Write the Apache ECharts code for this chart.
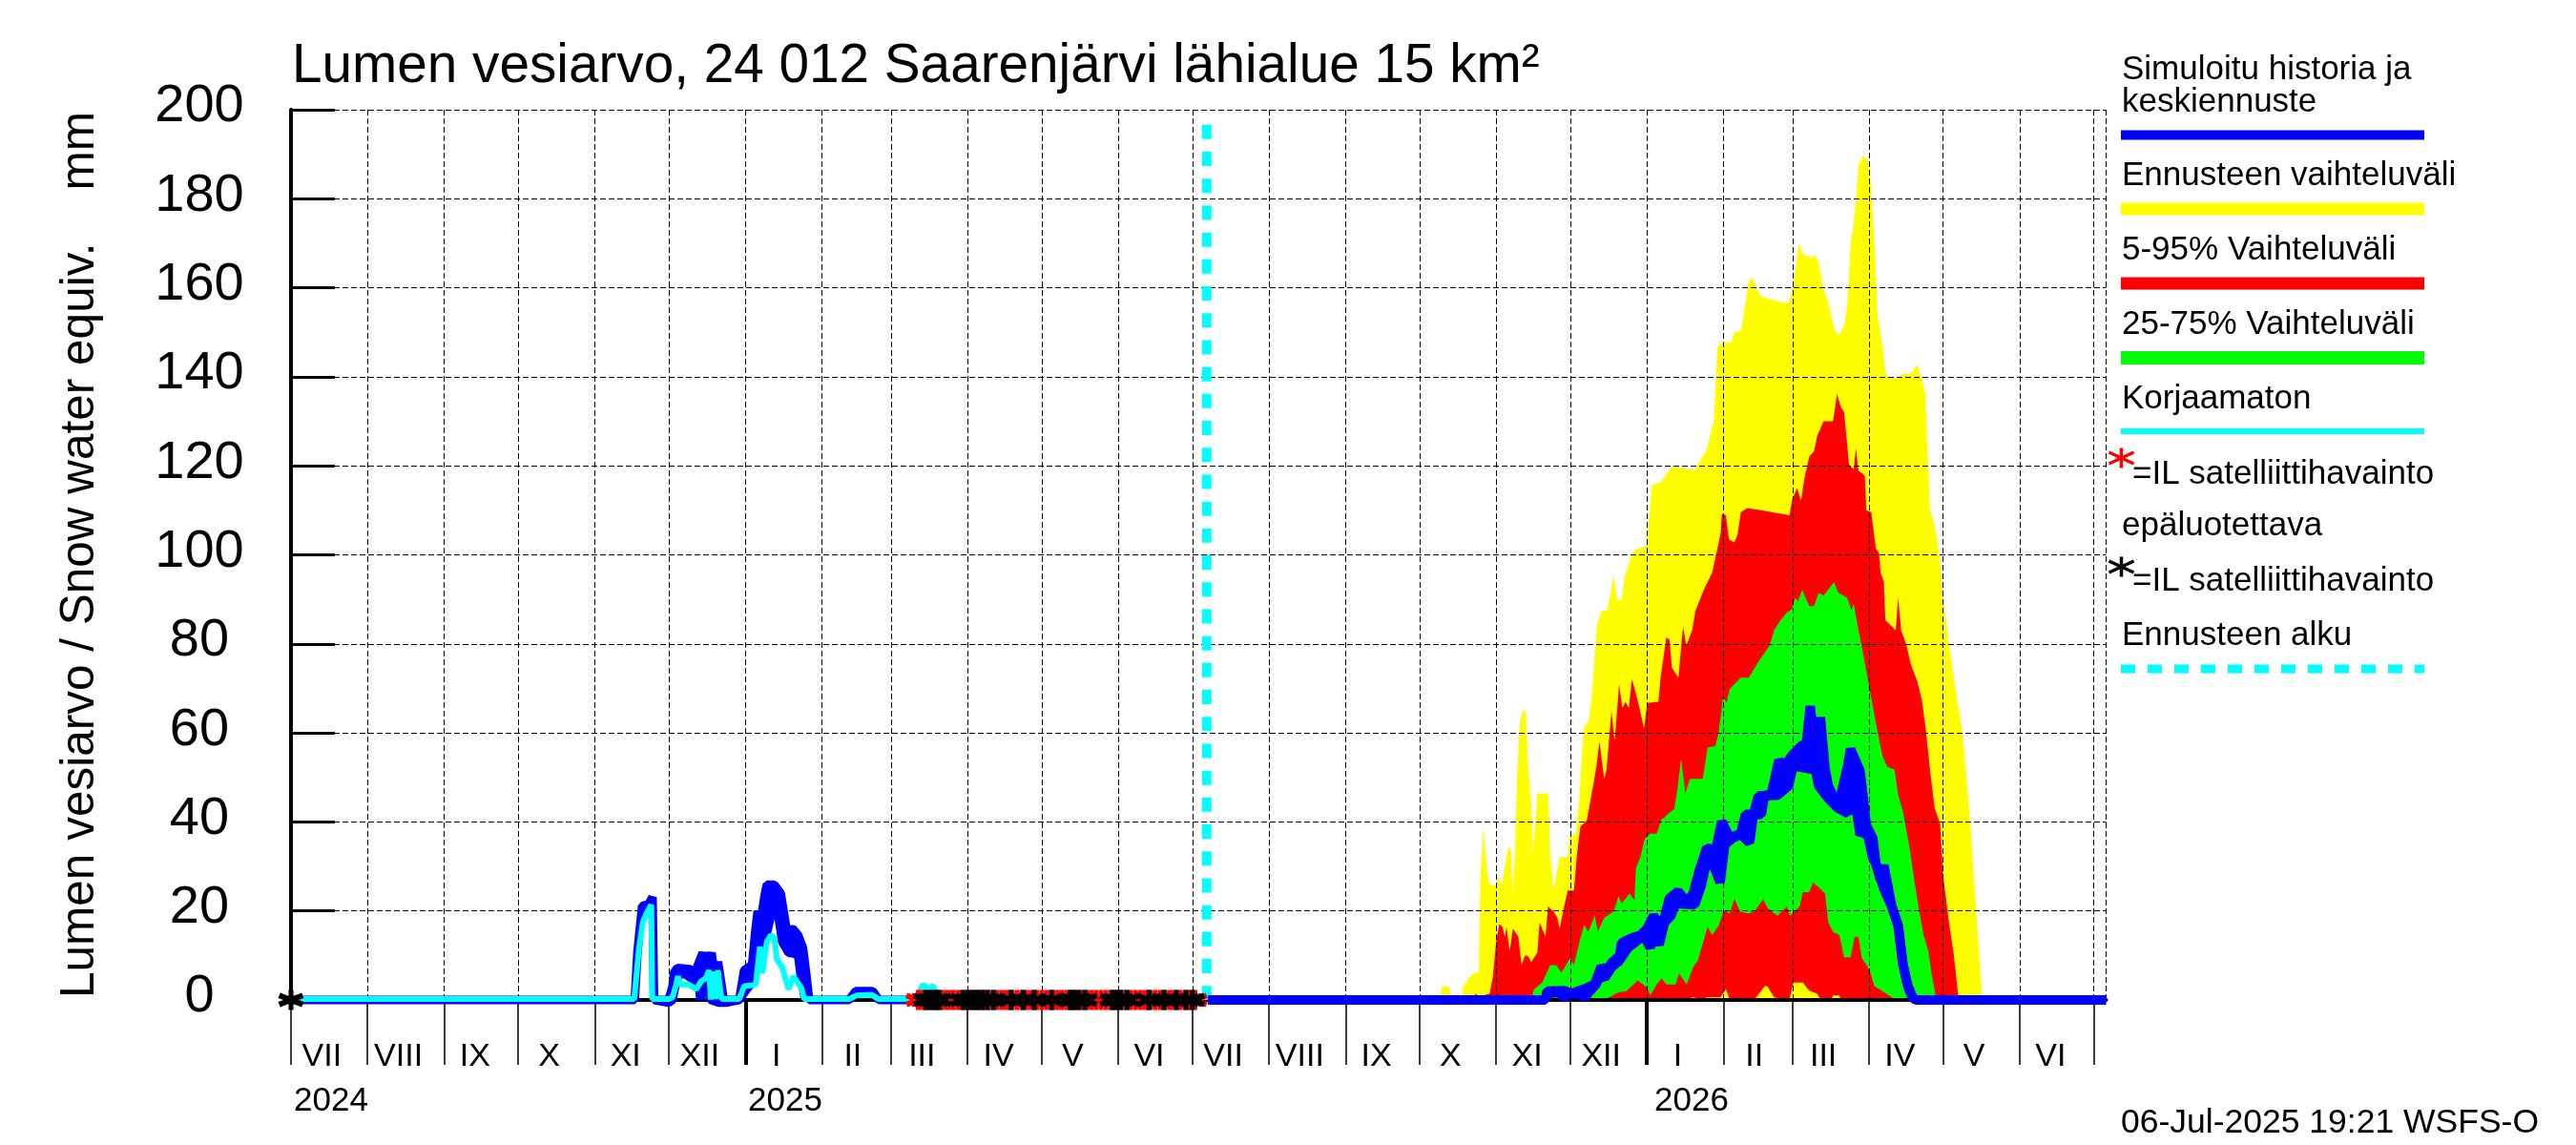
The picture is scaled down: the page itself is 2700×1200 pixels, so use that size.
<!DOCTYPE html>
<html>
<head>
<meta charset="utf-8">
<style>html,body{margin:0;background:#fff}#container{width:2700px;height:1200px}</style>
<script src="https://cdn.jsdelivr.net/npm/echarts@6/dist/echarts.min.js"></script>
</head>
<body>
<div id="container"></div>
<script>
const chartIns = echarts.init(document.getElementById('container'));

// x is days since 1 Jul 2024, y is mm
const monthStarts = [0,31,62,92,123,153,184,215,243,274,304,335,365,396,427,457,488,518,549,580,608,639,669,700,730];
const monthNames = ['VII','VIII','IX','X','XI','XII','I','II','III','IV','V','VI','VII','VIII','IX','X','XI','XII','I','II','III','IV','V','VI'];
const yearStarts = [184,549];
const yTicks = [0,20,40,60,80,100,120,140,160,180,200];
const forecastStart = 370.8;
const lastDay = 735;

const ennusteMax = [[465,0],[466,3],[469,3],[470,0],[474,0],[474.5,3],[478,5.7],[481,6.4],[481.6,27.4],[482.8,38.9],[484.5,28.2],[485.4,26],[488,25.6],[489,27.8],[490.2,25.6],[493,34.6],[494,33.5],[494.8,24.2],[495.7,33.9],[496.4,49.6],[497.6,62.4],[498.9,65.3],[500,64.6],[500.9,53.1],[502.2,43.9],[503,33.1],[504.7,46.4],[509,46.4],[509.9,33.1],[511.2,24.6],[513.7,32.1],[517,32.1],[517.9,37.1],[520.2,37.1],[521.5,43.9],[523.4,61],[525.6,62.8],[526.6,67.4],[527.9,77.4],[528.8,83.9],[530.5,87.4],[533,87.4],[535.6,95.3],[537.2,89.6],[538.8,90],[540,95],[543.3,100.7],[545.4,101.4],[549,102],[551,115.7],[554.8,116.4],[559,119.8],[568.4,119.1],[569.7,120.3],[573,123.2],[574.8,127.1],[576.1,130.3],[577,139.6],[577.7,146.7],[579.4,147.7],[583.2,147.8],[584.5,150],[587.1,150.3],[588.4,154.6],[590.3,161.4],[591.8,162.4],[593.5,159.6],[595.4,158],[605.8,156.5],[607,157.5],[609,163.2],[610.6,170.2],[612.2,167.5],[616,166.7],[617,167.5],[618.6,165.7],[620.6,159.6],[622.5,156.7],[625.1,150.3],[627,149.5],[628.9,151.4],[630.2,156],[631.5,169.6],[633.4,177.5],[634.7,187.5],[636.7,189.7],[638.6,188.5],[639.9,182.5],[641.2,170.3],[642.4,153.9],[644.4,147.5],[645.7,141],[647,139.6],[650.2,139.6],[652.1,140.5],[656.6,141],[658.5,142.8],[660.5,139.3],[661.8,136],[662.7,123.2],[663.7,110],[665.6,106.7],[667.6,99.6],[668.8,91.7],[671,81.7],[673.7,71],[676.8,60.3],[678.5,49.6],[680.1,38.9],[681.4,28.1],[682.7,17.4],[684,6.7],[684.9,0]];

const vaihtelu95 = [[479,0],[479.6,1.4],[481,0.8],[485.4,1.4],[486.7,5.3],[488,13.1],[489.3,17.1],[490.6,16.4],[491.5,14.2],[492.2,16.4],[493.5,11],[494.8,16],[497,14.2],[498.3,7.8],[499.6,9.9],[500.9,9.9],[502.2,8.5],[504.7,10.6],[505.6,17.4],[508,14.2],[509,21],[511.2,19.9],[512.8,18.5],[513.7,16],[515,19.6],[517,24.6],[519.5,24.6],[520.8,33.1],[522.1,38.9],[524.7,40.3],[526.6,46],[528.6,52.4],[529.8,58.1],[531.8,49.6],[532.7,51.7],[534.7,64.9],[536,58.1],[537.8,71],[539.1,65.6],[540.4,67],[541.7,65.6],[543,72.1],[545.3,67.4],[547.9,61],[549.2,66.7],[553.7,67],[554.6,72.4],[556.9,81.4],[558.2,81],[559.2,74.6],[561.8,72.4],[563.7,83.9],[565,79.6],[567.4,83.1],[568.7,87.4],[572.3,92.4],[575.5,96],[578.9,104.8],[579.4,109.2],[581,108.9],[582.3,103.5],[584.5,102.8],[585.8,104.6],[587.1,109.6],[589.7,110.5],[595.4,110],[606.8,108.9],[607.9,112.5],[609.9,115],[611.5,112.1],[612.8,117.1],[614.8,122.1],[616.7,123.2],[618,126.7],[620.6,130],[624.4,130],[625.3,133.2],[626,136.2],[627.6,133.2],[628.9,132.1],[630.2,124.6],[630.9,120.3],[632.8,119.2],[633.7,124],[634.7,118.9],[637.3,117.8],[637.9,110],[639.9,109.6],[641.8,101.4],[643.1,100.3],[643.7,96],[645,94],[645.6,85.3],[649,83.5],[649.8,83],[650.8,90.4],[652,83],[654,80],[656,75.3],[658.5,71.7],[660.4,67.4],[662.1,60.3],[663.7,51.7],[665.6,43.1],[667.8,39.6],[669,28],[671.4,17.4],[673.3,10.3],[675.3,0]];

const vaihtelu75 = [[491,0],[491.9,1.4],[493,0],[502,0],[503.4,2.4],[506.7,3.9],[509.9,7.8],[512.4,7.8],[514.4,6.1],[516.3,7.8],[517.9,9.4],[519.5,7.8],[522.1,13.9],[523.7,16.9],[525.3,15.3],[527.9,19],[529.2,15.4],[531.8,18.5],[535.6,19.9],[537.6,23.3],[538.8,21.7],[542,23.9],[544,22.4],[544.6,29.6],[546.6,32.4],[548.1,36.1],[550.4,37.4],[553,37.3],[555,40.6],[556.2,41],[558.2,42.1],[560.1,42.8],[561.4,47.4],[562.9,54.2],[564.6,46.4],[566.5,49.7],[571.7,49.7],[573.6,56.7],[576.8,57.1],[578.1,60],[579.9,68.1],[581.3,66.7],[582.6,69.9],[587.1,72.4],[590.3,72.4],[594.2,76],[598.7,79.6],[600.6,83.1],[603.2,85.3],[605.8,87.1],[607.7,87.8],[609,90.3],[610.3,89.6],[611.9,92.1],[614.8,88.5],[616.7,88.5],[618.6,91.4],[620.6,90.9],[621.8,91.7],[624.8,93.9],[626.4,91.6],[630.2,90.3],[631.8,87.6],[632.8,89],[634.7,83.1],[636,79.6],[638.6,71.7],[640.5,66],[642.4,60.3],[644.4,54.9],[646.3,52.4],[649.3,51.7],[650.8,46],[652.7,42.4],[655.3,34.6],[657.2,27.4],[659.2,20.3],[661.1,14.6],[663,11],[664.3,6],[666.3,0]];

const vaihtelu25 = [[533,0],[533.7,0.6],[537.6,1.7],[540.8,2],[545.3,4.4],[549.2,2.8],[550.4,1],[553,3.5],[555,4.9],[557,3.5],[560.7,3.5],[562,6],[565.2,3.5],[567.8,7.4],[569.7,8.9],[572.3,13.9],[573.6,16.4],[575.5,14.6],[578.1,16.7],[579.9,19.6],[580.6,20.1],[582.6,19.4],[584.5,22.8],[586.7,19.9],[590.3,19.4],[592.9,20.1],[596.1,22.6],[598,20.6],[601.9,18.9],[605.8,21],[607,18.9],[610.9,21],[612.2,24.2],[614.8,24.2],[616.3,26.4],[618.6,25.3],[621.2,23.9],[622.5,17.4],[624.4,15.3],[627,14.6],[628.9,9.6],[631.5,9.6],[633.2,14.2],[634.7,14.2],[636,9.6],[639.2,6.7],[641.2,3.1],[644.4,2],[648.2,0.6],[649.5,0]];

const vaihtelu5 = [[566.9,0],[567.2,0.6],[568.5,0.6],[568.8,0],[572.8,0],[573,0.6],[578.8,0.6],[581.1,2.4],[582.6,0],[592,0],[593,0.4],[596.8,3.1],[597.8,3.1],[600.6,0.6],[606,0],[607,0.6],[608.4,3.9],[612.2,3.9],[614.8,2.1],[618,1.4],[619.5,0],[623.8,0],[624.4,1],[627,1],[627.6,0]];

const keskiYla = [[371.3,0],[508,0],[508.6,2],[515.7,2.1],[518.3,1.4],[523.4,2.4],[527.9,3.5],[530.5,7.5],[532.4,6.5],[535,8.5],[538,10],[538.8,12.8],[542.7,13.9],[546.5,14.6],[549.1,16],[551.7,18.9],[554.3,17.1],[555.6,17.1],[558.1,22.8],[561.7,24.4],[565.2,22],[567.8,23.9],[570.3,29.2],[573.3,34.2],[576.8,33.5],[579.4,40.1],[582.6,36.4],[587.1,37.4],[589,41.7],[592.2,41.7],[594.2,45.8],[599.3,46],[602.5,53.9],[604.5,52.2],[607.7,54.9],[612.2,57.4],[613.5,57],[615.2,66],[617,56],[619.3,63.5],[621.2,52],[622.5,48.1],[626.4,43.5],[627.6,46],[630.5,53],[631.5,56.4],[635.4,51.4],[637.9,39.2],[640.5,36.4],[641.8,30.6],[643.6,27],[645,30.3],[648.2,21],[650.8,16.7],[652.7,8.1],[654.7,3.1],[656.6,0.6],[657.9,0],[735,0]];

const keskiAla = [[508,0],[508.6,1.5],[514,1.7],[515.4,0.3],[517,1.5],[522,1.2],[523.8,0.6],[526,2],[528.5,3.5],[530,5.5],[532,5],[535,7.5],[537.6,8.6],[538.8,9.6],[541.4,11.7],[546.5,13.9],[548.4,13.9],[550.4,11.7],[551.7,15.3],[554,12.4],[556.2,17.4],[558.8,18.9],[560.7,21.7],[568.4,21.4],[571,25.6],[572.9,30.3],[575.5,31],[578.7,26.4],[580.6,34.9],[583.9,36.4],[587.1,37.2],[590.6,35.3],[592.2,41.7],[595.4,41.7],[596.7,46],[601.9,46],[606.4,48.1],[608.3,52.8],[610.3,52.4],[617.3,51.7],[618.6,48.1],[622.5,45.3],[626.4,43.1],[630.5,41.9],[631.8,50.3],[635.4,37.1],[637.9,38.5],[640.5,32],[641.8,30.6],[645,25],[648.2,21],[650.8,16.7],[652.7,8.1],[654.7,3.1],[656.6,0.6],[657.9,0]];

const historiaYla = [[0,0],[139.2,0],[140.3,10.8],[141.6,17.9],[142.2,21.1],[144.8,21.5],[146.4,23.1],[147,0],[152.9,0],[154.5,3],[155.1,6.1],[156.4,7.2],[161.6,6.9],[163.5,6.1],[166.7,10.6],[168,7.4],[170.3,10.6],[171.6,5],[172.9,8.6],[174.4,3.1],[175.2,0],[181.5,0],[183.5,6.7],[186.7,7.8],[188,15.3],[189,20],[190.1,17.4],[191.8,23.5],[192.7,25.9],[195.7,25.9],[198.3,23.9],[199.5,19.9],[200.8,15.3],[203,16.1],[205.3,14.6],[207.3,11.7],[208.6,6],[209.8,0],[226,0],[228.7,2],[235.6,2],[238,0],[250,0]];
const historiaAla = [[147,0],[152.9,-0.6],[154.5,0],[156.4,5.3],[159,6],[162.8,4.6],[165,3.9],[165.8,0],[167,3.9],[168.6,2.8],[170,0],[173.2,-0.6],[176,-0.6],[181.5,0],[184,2],[186.7,3.9],[189.9,9.6],[192.5,14.6],[195.7,22.1],[197,20.3],[198.9,13.1],[201.5,10.6],[205.3,10.3],[206.6,4.6],[207.9,1],[209,0]];
const korjaamaton = [[0,0.2],[139,0.2],[141,12],[142.5,17.5],[144,19.5],[145.9,21.4],[146.3,0.2],[153,0.2],[154.5,0.6],[155.8,3.1],[156.7,5.3],[157.7,3.5],[160.9,3.5],[164.1,2.4],[166.1,4.2],[168,4.9],[169.3,6.7],[170,0.1],[170.8,6.4],[171.9,0.2],[172.9,6.7],[173.8,2.4],[174.4,0.2],[181.5,0.2],[183.5,3.1],[186.7,3.3],[188.2,3.5],[189.9,12],[190.9,6],[192.7,13.1],[194.4,14.6],[195.7,13.9],[196.7,9.2],[198.9,7.4],[201.5,2.4],[203.4,5.3],[206.6,2.8],[207.9,0.2],[226,0.2],[229,1],[235,1.2],[238,0.2],[253,0.2],[256,3.5],[258,2.5],[260,3.2],[262,0.2]];

const havaintoEpaluotettava = [254,256,258,260,262,264,266,268,270,272,274,276,278,280,282,284,286,288,290,292,294,296,298,300,302,304,306,308,310,312,314,316,318,320,322,324,326,328,330,332,334,336,338,340,342,344,346,348,350,352,354,356,358,360,362,364,366];
const havainto = [0,257,259,261,262.5,272,274,276,278,280,282,284.5,291.5,296.5,301,308,315.5,317,319,321.5,332.5,334,336,338.5,347.5,353.5,358.5,362.5,365];

const dashGrid = {color:'#000',width:1,type:[6,3]};
const font = '"Liberation Sans"';
const STAR = 'path://M41 0L59 0L59 100L41 100ZM2 40L10 14L98 60L90 86ZM2 60L90 14L98 40L10 86Z';

function area(data, color) {
  return {type:'line',data,symbol:'none',silent:true,z:2,lineStyle:{width:0},areaStyle:{color,opacity:1},itemStyle:{color},clip:false};
}
function line(data, color, width, z) {
  return {type:'line',data,symbol:'none',silent:true,z,lineStyle:{color,width,join:'bevel'},clip:false};
}
// solid blue between the two simulated lines
function band(upper, lower, from, to, z) {
  const pts = upper.filter(p => p[0] >= from && p[0] <= to).concat(lower.slice().reverse());
  return {type:'custom',data:[[from,0]],silent:true,z,clip:false,
    renderItem:(params, api) => ({type:'polygon',shape:{points:pts.map(p => api.coord(p))},style:{fill:'#0000ff'}})};
}
function stars(days, color, z) {
  return {type:'scatter',data:days.map(d => [d,0]),symbol:STAR,symbolSize:[27,21],silent:true,z,itemStyle:{color,opacity:1},clip:false};
}
function legendText(text, x, y) {
  return {type:'text',x,y,z:10,style:{text,font:'35px ' + font,fill:'#000',textVerticalAlign:'middle'}};
}
function legendBar(y, h, color) {
  return {type:'rect',shape:{x:2223,y:y-h/2,width:318,height:h},z:10,style:{fill:color}};
}
function legendStar(cx, cy, color) {
  const style = {stroke:color,lineWidth:3.5};
  return {type:'group',z:10,children:[
    {type:'line',shape:{x1:cx,y1:cy-10.5,x2:cx,y2:cy+10.5},style},
    {type:'line',shape:{x1:cx-13,y1:cy-6,x2:cx+13,y2:cy+6},style},
    {type:'line',shape:{x1:cx-13,y1:cy+6,x2:cx+13,y2:cy-6},style}
  ]};
}

const option = {
  animation:false,
  backgroundColor:'#fff',
  title:{text:'Lumen vesiarvo, 24 012 Saarenjärvi lähialue 15 km²',left:306,top:42,padding:0,
    textStyle:{fontFamily:font,fontWeight:'normal',fontSize:56.7,color:'#000'}},
  grid:{left:305,right:492.5,top:115,bottom:152},
  xAxis:[{
    type:'value',min:0,max:lastDay,z:3,
    axisLine:{onZero:true,lineStyle:{color:'#000',width:4}},
    axisTick:{show:true,inside:false,length:68,customValues:monthStarts,lineStyle:{color:'#000',width:1.5}},
    splitLine:{show:true,lineStyle:dashGrid},
    axisLabel:{show:true,margin:43,verticalAlign:'top',fontFamily:font,fontSize:34,color:'#000',
      customValues:monthNames.map((m,i) => monthStarts[i] + 12.5),
      formatter:v => monthNames[monthStarts.findIndex(s => s + 12.5 === v)]}
  },{
    type:'value',min:0,max:lastDay,z:3,position:'bottom',
    axisLine:{show:false},
    axisTick:{show:true,inside:false,length:68,customValues:yearStarts,lineStyle:{color:'#000',width:4}},
    splitLine:{show:false},axisLabel:{show:false}
  }],
  yAxis:{
    type:'value',min:0,max:200,interval:20,z:3,
    name:'Lumen vesiarvo / Snow water equiv.    mm',nameLocation:'middle',nameRotate:90,nameGap:196,
    nameTextStyle:{fontFamily:font,fontSize:49.5,color:'#000'},
    axisLine:{show:true,lineStyle:{color:'#000',width:4}},
    axisTick:{show:true,inside:true,length:46,lineStyle:{color:'#000',width:3}},
    splitLine:{show:true,lineStyle:dashGrid},
    axisLabel:{margin:96,align:'center',verticalAlign:'bottom',lineHeight:6,fontFamily:font,fontSize:56,color:'#000',
      customValues:yTicks}
  },
  series:[
    area(ennusteMax,'#ffff00'),
    area(vaihtelu95,'#ff0000'),
    area(vaihtelu75,'#00ff00'),
    area(vaihtelu25,'#ff0000'),
    area(vaihtelu5,'#ffff00'),
    band(historiaYla,historiaAla,147,209.8,4),
    line(historiaYla,'#0000ff',9,4),
    line(historiaAla,'#0000ff',9,4),
    line(korjaamaton,'#00ffff',6,5),
    band(keskiYla,keskiAla,508,657.9,6),
    line(keskiYla,'#0000ff',10,6),
    line(keskiAla,'#0000ff',10,6),
    {type:'line',data:[[forecastStart,196.6],[forecastStart,0]],symbol:'none',silent:true,z:4,clip:false,
      lineStyle:{color:'#00ffff',width:10,type:[15,13.2]}},
    {type:'line',data:[[lastDay,0],[lastDay,200]],symbol:'none',silent:true,z:3,lineStyle:dashGrid},
    stars(havaintoEpaluotettava,'#ff0000',7),
    stars(havainto,'#000000',8)
  ],
  graphic:[
    {type:'text',x:308,y:1154,style:{text:'2024',font:'35px ' + font,fill:'#000',textVerticalAlign:'middle'}},
    {type:'text',x:784,y:1154,style:{text:'2025',font:'35px ' + font,fill:'#000',textVerticalAlign:'middle'}},
    {type:'text',x:1734,y:1154,style:{text:'2026',font:'35px ' + font,fill:'#000',textVerticalAlign:'middle'}},
    {type:'text',x:2223,y:1177,style:{text:'06-Jul-2025 19:21 WSFS-O',font:'35.5px ' + font,fill:'#000',textVerticalAlign:'middle'}},
    legendText('Simuloitu historia ja',2224,73),
    legendText('keskiennuste',2224,107),
    legendBar(141.5,10,'#0000ff'),
    legendText('Ennusteen vaihteluväli',2224,184),
    legendBar(219,13,'#ffff00'),
    legendText('5-95% Vaihteluväli',2224,262),
    legendBar(297,13,'#ff0000'),
    legendText('25-75% Vaihteluväli',2224,340),
    legendBar(375,14,'#00ff00'),
    legendText('Korjaamaton',2224,418),
    legendBar(452,6,'#00ffff'),
    legendStar(2223.5,480,'#ff0000'),
    legendText('=IL satelliittihavainto',2235,497),
    legendText('epäluotettava',2224,551),
    legendStar(2223.5,594,'#000'),
    legendText('=IL satelliittihavainto',2235,609),
    legendText('Ennusteen alku',2224,666),
    {type:'line',shape:{x1:2223,y1:701,x2:2541,y2:701},z:10,style:{stroke:'#00ffff',lineWidth:9,lineDash:[15,13]}}
  ]
};
chartIns.setOption(option);
</script>
</body>
</html>
